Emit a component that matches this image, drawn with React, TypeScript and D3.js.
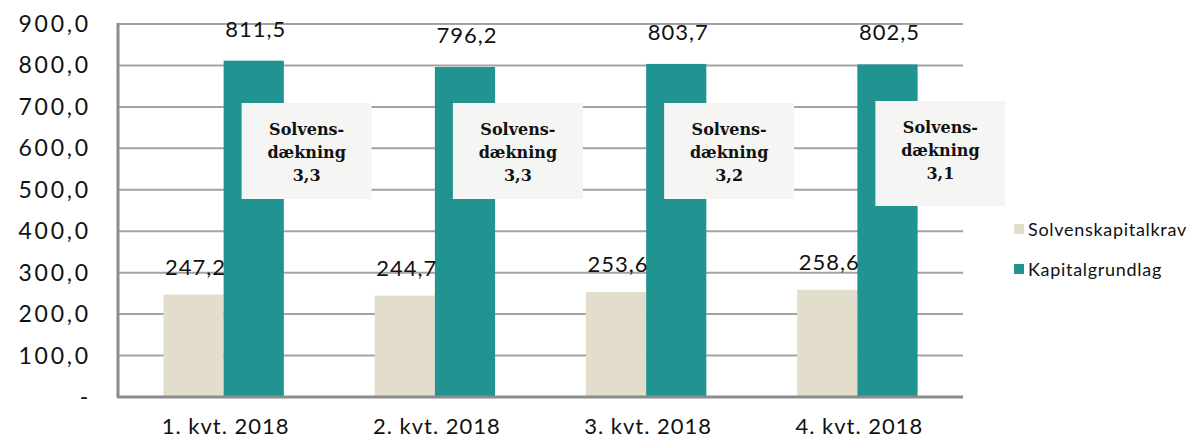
import React, { useEffect, useRef } from 'react';
import * as d3 from 'd3';

const categories = ['1. kvt. 2018', '2. kvt. 2018', '3. kvt. 2018', '4. kvt. 2018'];
const solvenskapitalkrav = [247.2, 244.7, 253.6, 258.6];
const kapitalgrundlag = [811.5, 796.2, 803.7, 802.5];
const solvensdaekning = ['3,3', '3,3', '3,2', '3,1'];
const yTicks = [0, 100, 200, 300, 400, 500, 600, 700, 800, 900];
const seriesNames = ['Solvenskapitalkrav', 'Kapitalgrundlag'];

const BEIGE = '#e3ddcb';
const TEAL = '#219391';
const GRID = '#a3a3a3';
const SANS = 'Lato, "Open Sans", sans-serif';
const SERIF = '"DejaVu Serif", "Liberation Serif", serif';

const fmt = (v: number) => v.toFixed(1).replace('.', ',');

const Chart = () => {
  const ref = useRef<SVGSVGElement>(null);

  useEffect(() => {
    const svg = d3.select(ref.current);
    svg.selectAll('*').remove();

    const width = 1197;
    const height = 439;
    const margin = { top: 24, right: 234, bottom: 42, left: 118 };

    const x = d3.scaleBand()
      .domain(categories)
      .range([margin.left, width - margin.right])
      .paddingInner(0.43)
      .paddingOuter(0.215);

    const inner = d3.scaleBand()
      .domain(seriesNames)
      .range([0, x.bandwidth()]);

    const y = d3.scaleLinear()
      .domain([0, 900])
      .range([height - margin.bottom, margin.top]);

    // gridlines
    svg.append('g')
      .selectAll('line')
      .data(yTicks.filter(d => d > 0))
      .enter().append('line')
      .attr('x1', margin.left)
      .attr('x2', width - margin.right)
      .attr('y1', d => y(d))
      .attr('y2', d => y(d))
      .attr('stroke', GRID)
      .attr('stroke-width', 2);

    // y tick labels
    svg.append('g')
      .selectAll('text')
      .data(yTicks)
      .enter().append('text')
      .attr('x', 91)
      .attr('y', d => y(d) + 8)
      .attr('text-anchor', 'end')
      .attr('font-family', SANS)
      .attr('font-size', 23)
      .attr('letter-spacing', 2.8)
      .attr('fill', '#111')
      .text(d => (d === 0 ? '-' : fmt(d)));

    const groups = svg.append('g')
      .selectAll('g')
      .data(categories)
      .enter().append('g')
      .attr('transform', d => `translate(${x(d)},0)`);

    // beige bars
    groups.append('rect')
      .attr('x', inner('Solvenskapitalkrav')!)
      .attr('width', inner.bandwidth())
      .attr('y', (_, i) => y(solvenskapitalkrav[i]))
      .attr('height', (_, i) => y(0) - y(solvenskapitalkrav[i]))
      .attr('fill', BEIGE);

    // teal bars
    groups.append('rect')
      .attr('x', inner('Kapitalgrundlag')!)
      .attr('width', inner.bandwidth())
      .attr('y', (_, i) => y(kapitalgrundlag[i]))
      .attr('height', (_, i) => y(0) - y(kapitalgrundlag[i]))
      .attr('fill', TEAL);

    // value labels
    groups.append('text')
      .attr('x', inner('Solvenskapitalkrav')! + inner.bandwidth() / 2 + 2)
      .attr('y', (_, i) => y(solvenskapitalkrav[i]) - 20)
      .attr('text-anchor', 'middle')
      .attr('font-family', SANS)
      .attr('font-size', 22)
      .attr('letter-spacing', 1)
      .attr('fill', '#111')
      .text((_, i) => fmt(solvenskapitalkrav[i]));

    groups.append('text')
      .attr('x', inner('Kapitalgrundlag')! + inner.bandwidth() / 2 + 2)
      .attr('y', (_, i) => y(kapitalgrundlag[i]) - 24)
      .attr('text-anchor', 'middle')
      .attr('font-family', SANS)
      .attr('font-size', 22)
      .attr('letter-spacing', 1)
      .attr('fill', '#111')
      .text((_, i) => fmt(kapitalgrundlag[i]));

    // solvensdaekning boxes
    const boxX = inner('Kapitalgrundlag')! + 18;
    const boxes = groups.append('g')
      .attr('transform', `translate(${boxX},0)`);

    boxes.append('rect')
      .attr('y', (_, i) => (i === 3 ? 101 : 103))
      .attr('width', 130)
      .attr('height', (_, i) => (i === 3 ? 105 : 96))
      .attr('fill', '#f5f5f3');

    const lines = (i: number) => ['Solvens-', 'dækning', solvensdaekning[i]];
    boxes.each(function (_, i) {
      const g = d3.select(this);
      const top = i === 3 ? 101 : 103;
      lines(i).forEach((t, k) => {
        g.append('text')
          .attr('x', 65)
          .attr('y', top + 32 + k * 23)
          .attr('text-anchor', 'middle')
          .attr('font-family', SERIF)
          .attr('font-weight', 'bold')
          .attr('font-size', 16)
          .attr('fill', '#111')
          .text(t);
      });
    });

    // axes lines
    svg.append('line')
      .attr('x1', margin.left)
      .attr('x2', margin.left)
      .attr('y1', y(900) - 1)
      .attr('y2', y(0) + 1)
      .attr('stroke', '#8c8c8c')
      .attr('stroke-width', 3);

    svg.append('line')
      .attr('x1', margin.left)
      .attr('x2', width - margin.right)
      .attr('y1', y(0))
      .attr('y2', y(0))
      .attr('stroke', '#8c8c8c')
      .attr('stroke-width', 3);

    // category labels
    svg.append('g')
      .selectAll('text')
      .data(categories)
      .enter().append('text')
      .attr('x', d => x(d)! + x.bandwidth() / 2 + 2)
      .attr('y', 434)
      .attr('text-anchor', 'middle')
      .attr('font-family', SANS)
      .attr('font-size', 22)
      .attr('letter-spacing', 1)
      .attr('fill', '#111')
      .text(d => d);

    // legend
    const legend = svg.append('g')
      .selectAll('g')
      .data(seriesNames)
      .enter().append('g')
      .attr('transform', (_, i) => `translate(1014,${229 + i * 40})`);

    legend.append('rect')
      .attr('y', -5)
      .attr('width', 10)
      .attr('height', 10)
      .attr('fill', (_, i) => (i === 0 ? BEIGE : TEAL));

    legend.append('text')
      .attr('x', 14)
      .attr('y', 7)
      .attr('font-family', SANS)
      .attr('font-size', 18)
      .attr('letter-spacing', 0.7)
      .attr('fill', '#111')
      .text(d => d);
  }, []);

  return <svg ref={ref} width={1197} height={439} style={{ display: 'block' }}></svg>;
};

export default function App() {
  return (
    <div style={{ margin: '-8px -8px 0 -8px' }}>
      <Chart />
    </div>
  );
}
